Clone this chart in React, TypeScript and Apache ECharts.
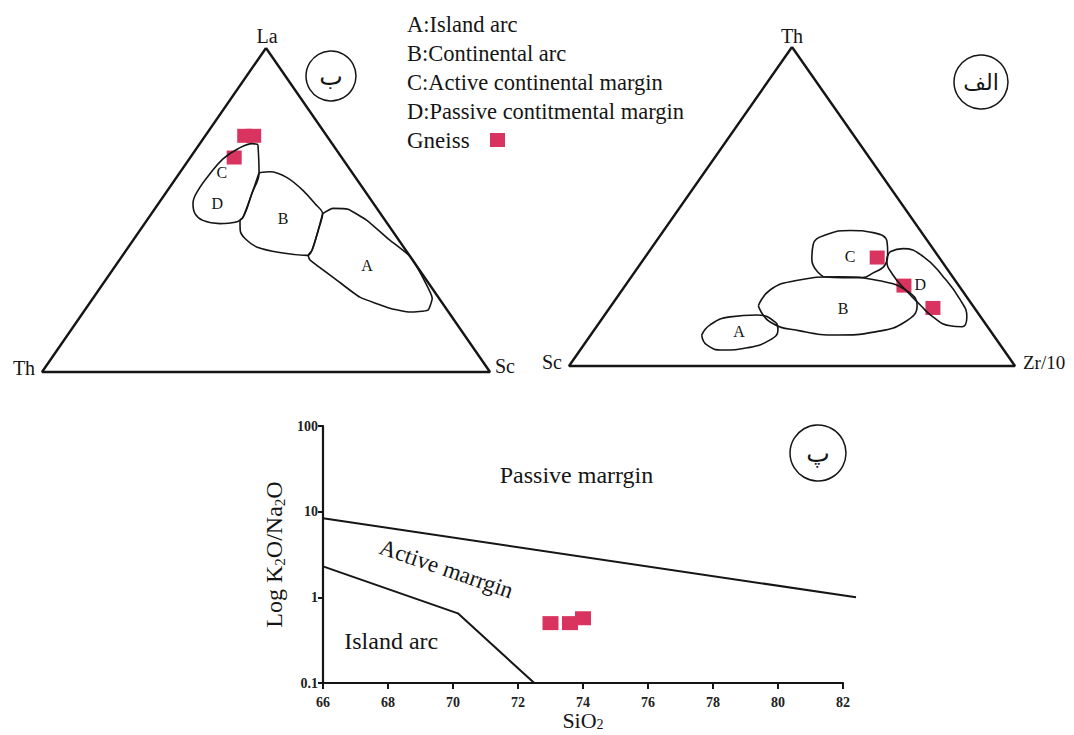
import React, { useEffect, useRef } from "react";
import * as echarts from "echarts";

// ---------- Left ternary diagram: La (top) – Th (left) – Sc (right); points are [La %, Sc %], Th = 100 − La − Sc
const leftTriangle = [[100, 0], [0, 0], [0, 100], [100, 0]];
const leftFieldCD = [[70.2, 13.1], [61.5, 17.7], [55.1, 19.3], [47.7, 21.0], [46.2, 20.0], [45.8, 16.8], [46.8, 12.5], [48.9, 9.7], [52.0, 7.7], [56.0, 6.8], [61.2, 6.9], [65.8, 7.5], [68.9, 9.3], [70.5, 11.7]];
const leftFieldB = [[61.5, 17.7], [61.8, 20.0], [60.0, 24.7], [56.0, 30.3], [52.0, 34.9], [48.9, 38.2], [43.7, 39.8], [37.5, 41.5], [36.0, 41.4], [36.9, 34.6], [38.5, 28.8], [41.2, 24.7], [43.7, 22.4], [46.8, 20.8], [47.7, 21.0], [55.1, 19.3]];
const leftFieldA = [[48.9, 38.2], [50.5, 39.7], [50.2, 43.2], [46.8, 49.1], [41.2, 56.6], [35.7, 64.3], [27.7, 71.7], [22.8, 75.7], [19.1, 76.6], [18.5, 72.9], [19.7, 67.8], [23.1, 59.4], [28.3, 51.7], [34.5, 42.6], [36.0, 41.4], [37.5, 41.5], [43.7, 39.8]];
const leftFieldNames = ["C", "D", "B", "A"];
const leftFieldNamePos = [[61.5, 9.4], [52.0, 13.1], [47.4, 30.1], [32.9, 56.1]];
const leftGneiss = [[72.9, 8.8], [72.9, 10.8], [66.2, 9.8]];

// ---------- Right ternary diagram: Th (top) – Sc (left) – Zr/10 (right); points are [Th %, Zr/10 %]
const rightTriangle = [[100, 0], [0, 0], [0, 100], [100, 0]];
const rightFieldC = [[28.0, 43.0], [33.3, 37.8], [38.1, 35.7], [41.2, 37.2], [42.5, 41.8], [41.8, 47.3], [39.0, 51.8], [35.5, 53.7], [31.8, 55.0], [29.2, 53.6], [27.7, 51.9], [27.7, 47.6]];
const rightFieldD = [[35.8, 54.1], [36.8, 56.5], [34.3, 62.3], [28.0, 69.9], [20.8, 77.3], [15.4, 81.5], [12.3, 82.0], [12.6, 79.1], [15.4, 73.9], [19.2, 69.1], [23.3, 64.2], [28.6, 58.3], [33.3, 54.6]];
const rightFieldB = [[18.9, 33.0], [23.9, 33.2], [26.7, 37.3], [28.0, 46.3], [26.7, 56.3], [23.3, 64.4], [18.9, 68.6], [13.8, 68.4], [10.7, 63.3], [9.7, 55.4], [11.0, 46.3], [13.8, 38.2]];
const rightFieldA = [[9.7, 24.9], [12.9, 25.2], [15.4, 28.4], [16.0, 34.2], [13.8, 39.3], [11.3, 41.2], [8.2, 41.0], [5.7, 37.1], [5.0, 32.0], [6.6, 27.6]];
const rightFieldNames = ["C", "D", "B", "A"];
const rightFieldNamePos = [[34.3, 45.9], [25.5, 66.0], [17.9, 52.5], [10.7, 32.8]];
const rightGneiss = [[34.0, 52.1], [25.2, 62.5], [18.2, 72.5]];

// ---------- Bottom diagram: SiO2 vs K2O/Na2O (log)
const xTicks = [66, 68, 70, 72, 74, 76, 78, 80, 82];
const yTicks = [0.1, 1, 10, 100];
const boundaryExtentSiO2 = 82.4; // the upper boundary runs a little past the last tick
const passiveActiveBoundary = [[66, 8.4], [82.4, 1.0]];
const activeIslandBoundary = [[66, 2.3], [70.15, 0.65], [72.5, 0.1]];
const gneissSiO2 = [73.0, 73.6, 74.0];
const gneissK2ONa2O = [0.5, 0.5, 0.57];
const regionNames = ["Passive marrgin", "Active marrgin", "Island arc"];
const regionPos = [[73.8, 26.7], [69.8, 2.18], [68.1, 0.306]];

const legendLines = ["A:Island arc", "B:Continental arc", "C:Active continental margin", "D:Passive contitmental margin"];

const SERIF = "'Liberation Serif', 'Times New Roman', serif";
const ARABIC = "'DejaVu Sans', 'Noto Sans', sans-serif";
const INK = "#151515";
const PINK = "#d9345f";

const tern = (p: number[]) => [p[1] / 100 + p[0] / 200, p[0] / 100];
const closed = (pts: number[][]) => [...pts, pts[0]].map(tern);

function outline(pts: number[][], idx: number, smooth: number, width: number, close = true) {
  return {
    type: "line",
    xAxisIndex: idx,
    yAxisIndex: idx,
    data: close ? closed(pts) : pts.map(tern),
    smooth,
    symbol: "none",
    clip: false,
    silent: true,
    lineStyle: { color: INK, width },
  };
}

function names(labels: string[], pos: number[][], idx: number) {
  return {
    type: "scatter",
    xAxisIndex: idx,
    yAxisIndex: idx,
    symbolSize: 1,
    itemStyle: { color: "rgba(0,0,0,0)", opacity: 1 },
    silent: true,
    data: labels.map((n, i) => ({ name: n, value: tern(pos[i]) })),
    label: { show: true, position: "inside", formatter: "{b}", fontFamily: SERIF, fontSize: 16, color: INK },
  };
}

function gneiss(pts: number[][], idx: number) {
  return {
    type: "scatter",
    xAxisIndex: idx,
    yAxisIndex: idx,
    symbol: "rect",
    symbolSize: [15, 14],
    itemStyle: { color: PINK, opacity: 1 },
    data: pts.map(tern),
  };
}

const invisible = {
  show: false,
  axisLine: { show: false },
  axisTick: { show: false },
  axisLabel: { show: false },
  splitLine: { show: false },
};

export default function App() {
  const ref = useRef<HTMLDivElement>(null);
  useEffect(() => {
    if (!ref.current) return;
    const chart = echarts.init(ref.current, undefined, { renderer: "svg" });
    const hiddenAxis = (i: number) => ({ gridIndex: i, type: "value", min: 0, max: 1, ...invisible });
    const txt = (text: string, x: number, y: number, size: number, align = "center", font = SERIF) => ({
      type: "text",
      x,
      y,
      style: { text, fontSize: size, fontFamily: font, fill: INK, align, verticalAlign: "middle" },
    });
    const ring = (cx: number, cy: number, r: number) => ({
      type: "circle",
      shape: { cx, cy, r },
      style: { fill: "none", stroke: INK, lineWidth: 1.5 },
    });
    const richY = {
      m: { fontFamily: SERIF, fontSize: 24, color: INK },
      s: { fontFamily: SERIF, fontSize: 15, color: INK, padding: [12, 0, 0, 0] },
    };
    const richX = {
      m: { fontFamily: SERIF, fontSize: 22, color: INK, lineHeight: 22 },
      s: { fontFamily: SERIF, fontSize: 14, color: INK, lineHeight: 14, padding: [8, 0, 0, 0] },
    };
    const plotLeft = 323;
    const plotTop = 426;
    const plotW = 520;
    const plotH = 257;
    const pxPerUnit = plotW / (xTicks[xTicks.length - 1] - xTicks[0]);
    // helper grid with the same scales as the SiO2 plot, extended to the end of the boundary line
    const helperMinX = 60;
    const helperMinY = 0.01;
    const decades = Math.log10(yTicks[yTicks.length - 1]) - Math.log10(yTicks[0]);
    const helperH = (plotH * (Math.log10(yTicks[yTicks.length - 1]) - Math.log10(helperMinY))) / decades;
    chart.setOption({
      animation: false,
      backgroundColor: "#fff",
      grid: [
        { left: 42, top: 48, width: 448, height: 324, outerBoundsMode: "none" },
        { left: 569, top: 47, width: 446, height: 319, outerBoundsMode: "none" },
        { left: plotLeft, top: plotTop, width: plotW, height: plotH, outerBoundsMode: "none" },
        {
          left: plotLeft - pxPerUnit * (xTicks[0] - helperMinX),
          top: plotTop,
          width: pxPerUnit * (boundaryExtentSiO2 - helperMinX),
          height: helperH,
          outerBoundsMode: "none",
        },
      ],
      xAxis: [
        hiddenAxis(0),
        hiddenAxis(1),
        {
          gridIndex: 2,
          type: "value",
          min: xTicks[0],
          max: xTicks[xTicks.length - 1],
          interval: 2,
          axisLine: { onZero: false, lineStyle: { color: INK, width: 2.2 } },
          axisTick: { show: true, length: 6, lineStyle: { color: INK, width: 2 } },
          axisLabel: { margin: 12, fontFamily: SERIF, fontSize: 14, fontWeight: "bold", color: "#222" },
          splitLine: { show: false },
          name: "{m|SiO}{s|2}",
          nameLocation: "middle",
          nameGap: 24,
          nameTextStyle: { rich: richX },
        },
        { gridIndex: 3, type: "value", min: helperMinX, max: boundaryExtentSiO2, ...invisible },
      ],
      yAxis: [
        hiddenAxis(0),
        hiddenAxis(1),
        {
          gridIndex: 2,
          type: "log",
          logBase: 10,
          min: yTicks[0],
          max: yTicks[yTicks.length - 1],
          axisLine: { show: true, onZero: false, lineStyle: { color: INK, width: 2.2 } },
          axisTick: { show: true, length: 5, lineStyle: { color: INK, width: 2 } },
          axisLabel: { margin: 5, fontFamily: SERIF, fontSize: 14, fontWeight: "bold", color: "#222" },
          splitLine: { show: false },
          name: "{m|Log K}{s|2}{m|O/Na}{s|2}{m|O}",
          nameLocation: "middle",
          nameGap: 36,
          nameTextStyle: { rich: richY },
        },
        { gridIndex: 3, type: "log", logBase: 10, min: helperMinY, max: yTicks[yTicks.length - 1], ...invisible },
      ],
      series: [
        outline(leftTriangle, 0, 0, 2.4, false),
        outline(leftFieldCD, 0, 0.4, 1.6),
        outline(leftFieldB, 0, 0.3, 1.6),
        outline(leftFieldA, 0, 0.15, 1.6),
        names(leftFieldNames, leftFieldNamePos, 0),
        gneiss(leftGneiss, 0),
        outline(rightTriangle, 1, 0, 2.4, false),
        outline(rightFieldC, 1, 0.5, 1.6),
        outline(rightFieldD, 1, 0.5, 1.6),
        outline(rightFieldB, 1, 0.5, 1.6),
        outline(rightFieldA, 1, 0.5, 1.6),
        names(rightFieldNames, rightFieldNamePos, 1),
        gneiss(rightGneiss, 1),
        {
          type: "line",
          xAxisIndex: 3,
          yAxisIndex: 3,
          data: passiveActiveBoundary,
          symbol: "none",
          lineStyle: { color: INK, width: 2 },
        },
        {
          type: "line",
          xAxisIndex: 2,
          yAxisIndex: 2,
          data: activeIslandBoundary,
          symbol: "none",
          lineStyle: { color: INK, width: 2 },
        },
        {
          type: "scatter",
          xAxisIndex: 2,
          yAxisIndex: 2,
          symbol: "rect",
          symbolSize: [16, 14],
          itemStyle: { color: PINK, opacity: 1 },
          data: gneissSiO2.map((x, i) => [x, gneissK2ONa2O[i]]),
        },
        {
          type: "scatter",
          xAxisIndex: 2,
          yAxisIndex: 2,
          symbolSize: 1,
          itemStyle: { color: "rgba(0,0,0,0)", opacity: 1 },
          silent: true,
          data: regionNames.map((n, i) => ({
            name: n,
            value: regionPos[i],
            label: i === 1 ? { rotate: -19, fontSize: 23 } : {},
          })),
          label: { show: true, position: "inside", formatter: "{b}", fontFamily: SERIF, fontSize: 24, color: INK },
        },
      ],
      graphic: [
        txt("La", 267, 36, 20),
        txt("Th", 24, 368, 20),
        txt("Sc", 505, 366, 20),
        txt("Th", 792, 36, 20),
        txt("Sc", 552, 362, 20),
        txt("Zr/10", 1023, 362, 19, "left"),
        ...legendLines.map((l, i) => txt(l, 407, 24 + i * 29, 22.5, "left")),
        txt("Gneiss", 407, 140, 23, "left"),
        { type: "rect", shape: { x: 490, y: 133, width: 15, height: 14 }, style: { fill: PINK } },
        ring(331, 76, 25),
        txt("ب", 331, 76, 25, "center", ARABIC),
        ring(981, 82, 27),
        txt("الف", 981, 82, 22, "center", ARABIC),
        ring(818, 453, 28),
        txt("پ", 818, 453, 25, "center", ARABIC),
      ],
    });
    return () => chart.dispose();
  }, []);
  return <div ref={ref} style={{ width: 1074, height: 735, marginLeft: -8, marginTop: -8 }} />;
}
